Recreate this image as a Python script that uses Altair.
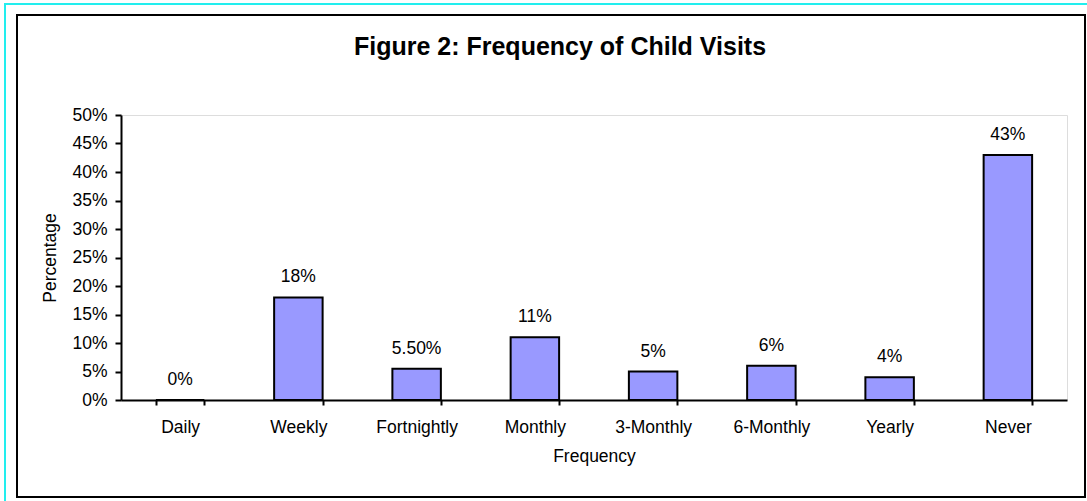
import altair as alt
import pandas as pd

# Frequency of child visits (percent of respondents)
categories = ["Daily", "Weekly", "Fortnightly", "Monthly", "3-Monthly", "6-Monthly", "Yearly", "Never"]
percent = [0, 18, 5.5, 11, 5, 6, 4, 43]
value_labels = ["0%", "18%", "5.50%", "11%", "5%", "6%", "4%", "43%"]
y_ticks = [0, 0.05, 0.10, 0.15, 0.20, 0.25, 0.30, 0.35, 0.40, 0.45, 0.50]

FONT = "Liberation Sans"
FS = 17.5
W, H = 946, 285

df = pd.DataFrame({
    "Frequency": categories,
    "share": [p / 100 for p in percent],
    "label": value_labels,
})

x_enc = alt.X(
    "Frequency:N",
    sort=categories,
    scale=alt.Scale(paddingInner=0.59, paddingOuter=0.295),
    axis=alt.Axis(
        title="Frequency", labelAngle=0, tickBand="extent",
        labelFont=FONT, labelFontSize=FS, labelColor="black", labelPadding=13,
        titleFont=FONT, titleFontSize=FS, titleFontWeight="normal", titleColor="black",
        titlePadding=12,
        domainColor="black", domainWidth=2, tickColor="black", tickWidth=2, tickSize=5,
    ),
)
y_enc = alt.Y(
    "share:Q",
    scale=alt.Scale(domain=[0, 0.5], nice=False),
    axis=alt.Axis(
        title="Percentage", values=y_ticks, format=".0%", grid=False,
        labelFont=FONT, labelFontSize=FS, labelColor="black", labelPadding=8,
        titleFont=FONT, titleFontSize=FS, titleFontWeight="normal", titleColor="black",
        titlePadding=12,
        domainColor="black", domainWidth=2, tickColor="black", tickWidth=2, tickSize=6,
    ),
)

base = alt.Chart(df)

bars = base.mark_bar(color="#9999FF", stroke="black", strokeWidth=2).encode(x=x_enc, y=y_enc)

labels = base.mark_text(
    font=FONT, fontSize=FS, color="black", baseline="alphabetic", align="center", dy=-15
).encode(x=x_enc, y=y_enc, text="label:N")

# chart frames: outer cyan border and inner black border
one = alt.Chart(pd.DataFrame({"k": [0]}))
black_frame = one.mark_rect(fill=None, stroke="black", strokeWidth=2).encode(
    x=alt.value(-104), x2=alt.value(964), y=alt.value(-100), y2=alt.value(382)
)
cyan_frame = one.mark_rect(fill=None, stroke="#22EEEE", strokeWidth=2).encode(
    x=alt.value(-116), x2=alt.value(990), y=alt.value(-111), y2=alt.value(410)
)

chart = alt.layer(cyan_frame, black_frame, bars, labels).properties(
    width=W,
    height=H,
    autosize=alt.AutoSizeParams(type="none"),
    padding={"left": 121, "top": 115, "right": 20, "bottom": 101},
    title=alt.TitleParams(
        text="Figure 2: Frequency of Child Visits",
        font=FONT, fontSize=25, fontWeight="bold", color="black",
        anchor="middle", dx=-34, baseline="alphabetic", offset=-77,
    ),
).configure_view(
    stroke="#808080", strokeWidth=2
).configure(background="white")

chart.save("out.html", embed_options={"renderer": "svg", "actions": False})
